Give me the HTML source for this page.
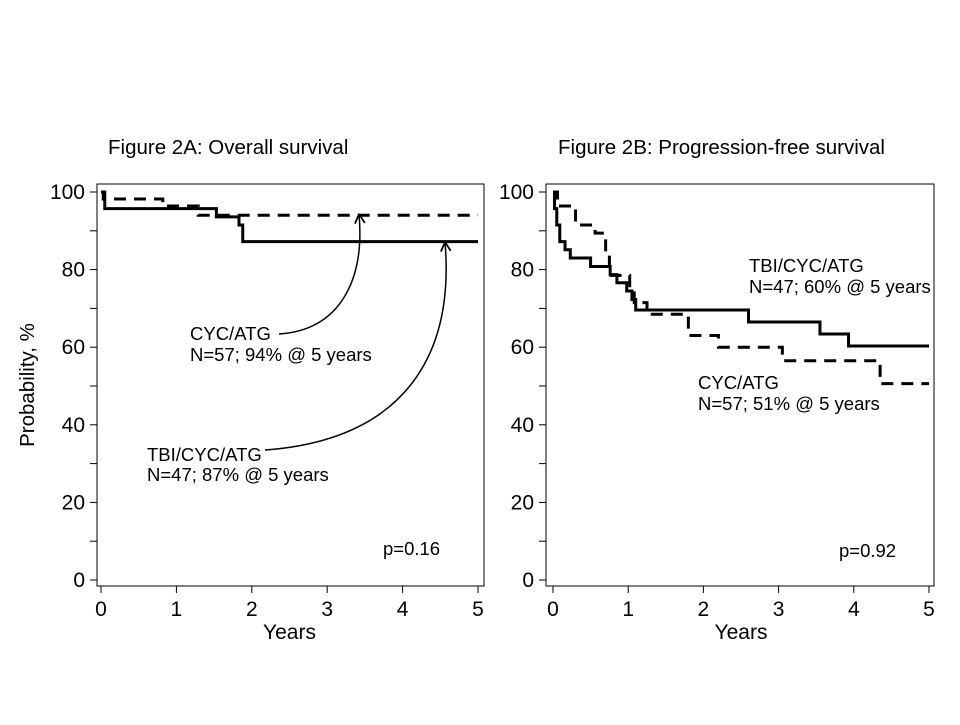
<!DOCTYPE html>
<html><head><meta charset="utf-8"><style>
body{margin:0;background:#fff}
svg text{font-family:"Liberation Sans",Arial,sans-serif;fill:#000}
</style></head><body>
<svg width="960" height="720" id="fig">
<defs><marker id="ah" viewBox="0 0 10 10" refX="9.5" refY="5" markerWidth="11" markerHeight="11" orient="auto" markerUnits="userSpaceOnUse"><path d="M1,0.5 L9.5,5 L1,9.5" fill="none" stroke="#000" stroke-width="1.6"/></marker></defs>
</svg>
<script>
// Panel A (overall survival)
const aTbiTimes=[0,0.05,1.53,1.83,1.88];
const aTbiVals=[100,95.7,93.6,91.5,87.2];
const aCycTimes=[0,0.03,0.82,1.29];
const aCycVals=[100,98.2,96.4,94];
// Panel B (progression-free survival)
const bTbiTimes=[0,0.02,0.05,0.09,0.16,0.23,0.5,0.76,0.85,0.98,1.05,1.1,2.6,3.55,3.93];
const bTbiVals=[100,95.7,91.5,87.2,85.1,83,80.8,78.7,76.6,74.5,72.3,69.6,66.5,63.4,60.3];
const bCycTimes=[0,0.06,0.3,0.56,0.7,0.75,1.02,1.08,1.25,1.8,2.2,3.05,4.35];
const bCycVals=[100,96.4,91.5,89.4,84,78.5,74,71.5,68.5,63,60,56.5,50.6];
const xTicks=[0,1,2,3,4,5];
const yTicks=[0,20,40,60,80,100];
const NS="http://www.w3.org/2000/svg";
const svg=document.getElementById('fig');
function mk(t,a,p){const e=document.createElementNS(NS,t);for(const k in a)e.setAttribute(k,a[k]);(p||svg).appendChild(e);return e;}
function panel(x0,x5,fx0,fx1,tbiT,tbiV,cycT,cycV,nm){
  const g=mk('g',{});
  
  
  const sx=t=>x0+(x5-x0)*t/5, sy=v=>580-388*v/100;
  const fr=mk('rect',{x:fx0,y:184,width:fx1-fx0,height:402,fill:'none',stroke:'#000','stroke-width':1},g);
  
  
  xTicks.forEach(t=>{mk('line',{x1:sx(t),x2:sx(t),y1:586,y2:593,stroke:'#000'},g);
    const tx=mk('text',{x:sx(t),y:616,'font-size':21,'text-anchor':'middle'},g);tx.textContent=t;
    
    });
  for(let v=0;v<=100;v+=10){mk('line',{x1:fx0-7,x2:fx0,y1:sy(v),y2:sy(v),stroke:'#000'},g);}
  yTicks.forEach(v=>{const tx=mk('text',{x:fx0-12,y:sy(v)+7,'font-size':21,'text-anchor':'end'},g);tx.textContent=v;
    
    });
  const xt=mk('text',{x:(x0+x5)/2,y:639,'font-size':21,'text-anchor':'middle'},g);xt.textContent='Years';
  
  
  function step(T,V,dash,name){let d='M'+sx(T[0])+','+sy(V[0]);
    for(let i=1;i<T.length;i++){d+=' H'+sx(T[i])+' V'+sy(V[i]);}
    d+=' H'+sx(5);
    const p=mk('path',{d:d,fill:'none',stroke:'#000','stroke-width':3,'stroke-dasharray':dash?'12,8':'none'},g);
    
    }
  step(cycT,cycV,true,'cyc-atg-curve');
  step(tbiT,tbiV,false,'tbi-cyc-atg-curve');
  return g;
}
panel(101,478,97,484,aTbiTimes,aTbiVals,aCycTimes,aCycVals,'panel-a');
panel(553,929,546,934,bTbiTimes,bTbiVals,bCycTimes,bCycVals,'panel-b');
function txt(x,y,s,name,size,extra){const t=mk('text',Object.assign({x:x,y:y,'font-size':size||18.5},extra||{}));t.textContent=s;
  
  return t;}
txt(108,154,'Figure 2A: Overall survival','title-a',20.5);
txt(558,154,'Figure 2B: Progression-free survival','title-b',20.5);
txt(0,0,'Probability, %','y-axis-title',20.5,{transform:'translate(34,385) rotate(-90)','text-anchor':'middle'});
txt(190,340,'CYC/ATG','label-a-cyc');
txt(190,361,'N=57; 94% @ 5 years','label-a-cyc-n');
txt(147,461,'TBI/CYC/ATG','label-a-tbi');
txt(147,481,'N=47; 87% @ 5 years','label-a-tbi-n');
txt(383,555,'p=0.16','p-value-a');
txt(749,272,'TBI/CYC/ATG','label-b-tbi');
txt(749,293,'N=47; 60% @ 5 years','label-b-tbi-n');
txt(698,389,'CYC/ATG','label-b-cyc');
txt(698,410,'N=57; 51% @ 5 years','label-b-cyc-n');
txt(839,557,'p=0.92','p-value-b');
const a1=mk('path',{d:'M279,334 C340,330 365,280 359,214',fill:'none',stroke:'#000','stroke-width':1.5,'marker-end':'url(#ah)'});


const a2=mk('path',{d:'M265,450 C400,440 455,360 445,242',fill:'none',stroke:'#000','stroke-width':1.5,'marker-end':'url(#ah)'});


</script>
</body></html>
